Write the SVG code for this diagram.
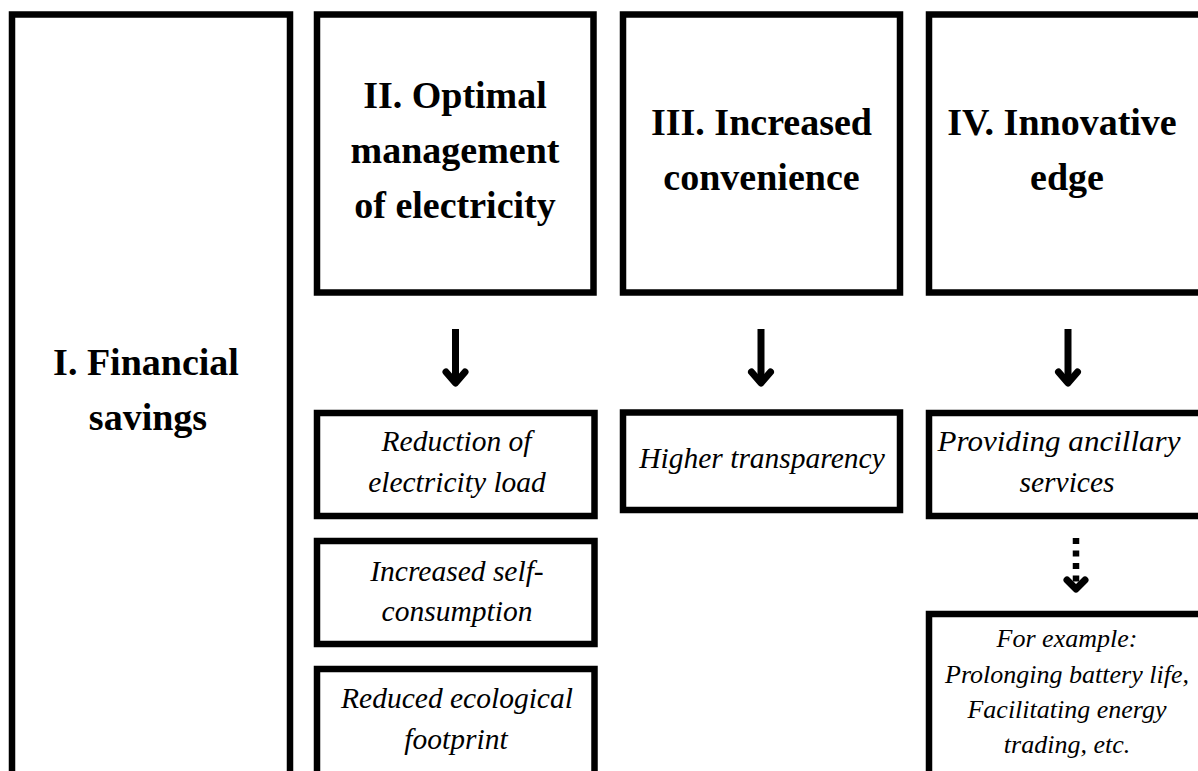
<svg xmlns="http://www.w3.org/2000/svg" width="1198" height="771" viewBox="0 0 1198 771">
  <style>
    .box { fill: #ffffff; stroke: #000000; stroke-width: 6.5; }
    .head { font-family: "Liberation Serif", "Times New Roman", serif; font-weight: bold; font-size: 38px; text-anchor: middle; fill: #000000; }
    .item { font-family: "Liberation Serif", "Times New Roman", serif; font-style: italic; font-size: 29.5px; text-anchor: middle; fill: #000000; }
    .small { font-size: 26px; }
    .shaft { stroke: #000000; stroke-width: 7; fill: none; }
    .head-v { stroke: #000000; stroke-width: 7; fill: none; stroke-linecap: round; stroke-linejoin: round; }
    .dotted { stroke: #000000; stroke-width: 6.5; fill: none; stroke-dasharray: 6 6.5; }
  </style>
  <rect width="1198" height="771" fill="#ffffff"/>

  <!-- column I -->
  <g id="financial-savings">
    <rect class="box" x="12" y="14.5" width="278" height="780"/>
    <text class="head" x="146" y="375">I. Financial</text>
    <text class="head" x="148" y="430">savings</text>
  </g>

  <!-- column II -->
  <g id="optimal-management">
    <rect class="box" x="317" y="14.5" width="276.5" height="278"/>
    <text class="head" x="455" y="108">II. Optimal</text>
    <text class="head" x="455" y="163">management</text>
    <text class="head" x="455" y="218">of electricity</text>
  </g>
  <g id="load-reduction">
    <rect class="box" x="317" y="413" width="277.5" height="103"/>
    <text class="item" x="456.5" y="451">Reduction of</text>
    <text class="item" x="457" y="492">electricity load</text>
  </g>
  <g id="self-consumption">
    <rect class="box" x="317" y="541" width="277.5" height="103"/>
    <text class="item" x="457" y="581">Increased self-</text>
    <text class="item" x="457" y="621">consumption</text>
  </g>
  <g id="ecological-footprint">
    <rect class="box" x="317" y="669" width="277.5" height="120"/>
    <text class="item" x="457" y="708">Reduced ecological</text>
    <text class="item" x="456" y="749">footprint</text>
  </g>

  <!-- column III -->
  <g id="increased-convenience">
    <rect class="box" x="623" y="14.5" width="277" height="278"/>
    <text class="head" x="761.5" y="135">III. Increased</text>
    <text class="head" x="761.5" y="190">convenience</text>
  </g>
  <g id="higher-transparency">
    <rect class="box" x="623" y="412.5" width="277" height="97.5"/>
    <text class="item" x="762" y="468">Higher transparency</text>
  </g>

  <!-- column IV -->
  <g id="innovative-edge">
    <rect class="box" x="929" y="14.5" width="280" height="278"/>
    <text class="head" x="1062" y="135">IV. Innovative</text>
    <text class="head" x="1067" y="190">edge</text>
  </g>
  <g id="ancillary-services">
    <rect class="box" x="929" y="413" width="280" height="103"/>
    <text class="item" x="1059" y="451" textLength="243" lengthAdjust="spacingAndGlyphs">Providing ancillary</text>
    <text class="item" x="1067" y="492">services</text>
  </g>
  <g id="examples">
    <rect class="box" x="929" y="614" width="280" height="180"/>
    <text class="item small" x="1067" y="647">For example:</text>
    <text class="item small" x="1067" y="683">Prolonging battery life,</text>
    <text class="item small" x="1067" y="718">Facilitating energy</text>
    <text class="item small" x="1067" y="753">trading, etc.</text>
  </g>

  <!-- connectors -->
  <g id="connectors">
    <line class="shaft" x1="455.5" y1="329" x2="455.5" y2="383"/>
    <polyline class="head-v" points="446,372 455.5,383 465,372"/>
    <line class="shaft" x1="761" y1="329" x2="761" y2="383"/>
    <polyline class="head-v" points="751.5,372 761,383 770.5,372"/>
    <line class="shaft" x1="1068" y1="329" x2="1068" y2="383"/>
    <polyline class="head-v" points="1058.5,372 1068,383 1077.5,372"/>
    <line class="dotted" x1="1076" y1="538" x2="1076" y2="582"/>
    <polyline class="head-v" points="1067,580 1076,589 1085,580"/>
  </g>
</svg>
